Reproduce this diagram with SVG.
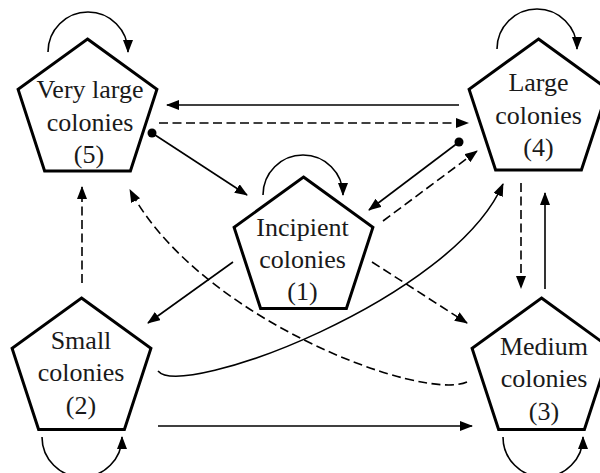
<svg xmlns="http://www.w3.org/2000/svg" width="600" height="473" viewBox="0 0 600 473">
<defs>
<marker id="ah" markerUnits="userSpaceOnUse" markerWidth="14" markerHeight="11" refX="12" refY="5" orient="auto">
<path d="M0,0 L13,5 L0,10 z" fill="#000" stroke="none"/>
</marker>
<style>
.node polygon{fill:#fff;stroke:#000;stroke-width:3;stroke-linejoin:miter}
.node text{font-size:26px;fill:#1a1a1a;text-anchor:middle}
.c{fill:none;stroke:#000;stroke-width:1.6}
.d{stroke-dasharray:9,4.5}
.a{marker-end:url(#ah)}
.dot{fill:#000}
</style>
</defs>
<rect width="600" height="473" fill="#fff"/>
<g id="connectors">
<path class="c a" d="M48,52 A40,40 0 0 1 128,52"/>
<path class="c a" d="M497,49 A40,40 0 0 1 577,49"/>
<path class="c a" d="M263,195 A40,40 0 0 1 343,195"/>
<path class="c a" d="M42,437 A40,40 0 0 0 122,437"/>
<path class="c a" d="M503,437 A40,40 0 0 0 583,437"/>
<path class="c a" d="M459,105 L167,105"/>
<path class="c d a" d="M159,123 L468,123"/>
<path class="c a" d="M152,133 L247,195"/>
<circle class="dot" cx="152" cy="133" r="4.5"/>
<path class="c a" d="M459,142 L369,210"/>
<circle class="dot" cx="459" cy="142" r="4.5"/>
<path class="c d a" d="M383,221 L477,151"/>
<path class="c d a" d="M521,183 L521,288"/>
<path class="c a" d="M545,289 L545,193"/>
<path class="c d a" d="M82,283 L82,187"/>
<path class="c d a" d="M467,382 C422,402 198,318 130,190"/>
<path class="c a" d="M158,371 C182,400 452,300 503,184"/>
<path class="c a" d="M233,262 L148,323"/>
<path class="c d a" d="M372,262 L467,323"/>
<path class="c a" d="M158,426 L472,426"/>
</g>
<g font-family="Liberation Serif, DejaVu Serif, serif">
<g id="n5" class="node">
<polygon points="87.5,39 156.9,89.4 130.4,171 44.6,171 18.1,89.4"/>
<text x="90" y="98">Very large</text>
<text x="90" y="130.5">colonies</text>
<text x="89" y="163">(5)</text>
</g>
<g id="n4" class="node">
<polygon points="538.5,39 607.9,89.4 581.4,170 495.6,170 469.1,89.4"/>
<text x="538.5" y="91">Large</text>
<text x="538.5" y="123.5">colonies</text>
<text x="538.5" y="156">(4)</text>
</g>
<g id="n1" class="node">
<polygon points="303.5,177 372.9,227.4 346.4,308.5 260.6,308.5 234.1,227.4"/>
<text x="302.5" y="236">Incipient</text>
<text x="302.5" y="268">colonies</text>
<text x="302.5" y="299.5">(1)</text>
</g>
<g id="n2" class="node">
<polygon points="81.5,298 150.9,348.4 124.4,429.5 38.6,429.5 12.1,348.4"/>
<text x="81" y="348.5">Small</text>
<text x="81" y="381">colonies</text>
<text x="81" y="413.5">(2)</text>
</g>
<g id="n3" class="node">
<polygon points="541.5,298 610.9,348.4 584.4,429.5 498.6,429.5 472.1,348.4"/>
<text x="544" y="355">Medium</text>
<text x="544" y="387">colonies</text>
<text x="544" y="420">(3)</text>
</g>
</g>
</svg>
